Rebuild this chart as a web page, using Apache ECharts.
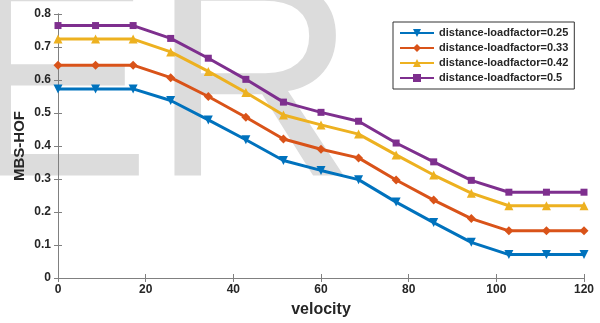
<!DOCTYPE html>
<html>
<head>
<meta charset="utf-8">
<script src="https://cdn.jsdelivr.net/npm/echarts@6/dist/echarts.min.js"></script>
<style>
  html, body { margin: 0; padding: 0; background: #fff; }
  #chart { width: 600px; height: 323px; }
</style>
</head>
<body>
<div id="chart"></div>
<script>
// velocity samples (15 points, 0..120)
const velocity = [0, 8.57, 17.14, 25.71, 34.29, 42.86, 51.43, 60, 68.57, 77.14, 85.71, 94.29, 102.86, 111.43, 120]

const seriesNames = [
  'distance-loadfactor=0.25',
  'distance-loadfactor=0.33',
  'distance-loadfactor=0.42',
  'distance-loadfactor=0.5',
]

const hof025 = [0.573, 0.573, 0.573, 0.538, 0.479, 0.419, 0.356, 0.326, 0.298, 0.230, 0.168, 0.108, 0.071, 0.071, 0.071]
const hof033 = [0.645, 0.645, 0.645, 0.607, 0.550, 0.487, 0.421, 0.390, 0.364, 0.297, 0.236, 0.180, 0.143, 0.143, 0.143]
const hof042 = [0.724, 0.724, 0.724, 0.685, 0.626, 0.562, 0.494, 0.464, 0.436, 0.373, 0.312, 0.257, 0.219, 0.219, 0.219]
const hof050 = [0.765, 0.765, 0.765, 0.726, 0.666, 0.602, 0.533, 0.502, 0.475, 0.409, 0.352, 0.296, 0.260, 0.260, 0.260]

const colors = ['#0072BD', '#D95319', '#EDB120', '#7E2F8E']
const markers = [
  { symbol: 'triangle', rotate: 180, size: 9 },
  { symbol: 'diamond', rotate: 0, size: 9 },
  { symbol: 'triangle', rotate: 0, size: 9 },
  { symbol: 'rect', rotate: 0, size: 7 },
]

const font = 'Liberation Sans, Arial, sans-serif'
const axisColor = '#808080'
const labelColor = '#262626'

const chart = echarts.init(document.getElementById('chart'))

function makeSeries(values, i) {
  return {
    name: seriesNames[i],
    type: 'line',
    data: values.map((v, k) => [velocity[k], v]),
    symbol: markers[i].symbol,
    symbolRotate: markers[i].rotate,
    symbolSize: markers[i].size,
    showAllSymbol: true,
    lineStyle: { color: colors[i], width: 3 },
    itemStyle: { color: colors[i] },
    z: 3,
  }
}

// top/right axes only close the box
const boxAxis = {
  axisLine: { show: true, lineStyle: { color: axisColor, width: 1 } },
  axisTick: { show: true, inside: true, length: 4, lineStyle: { color: axisColor } },
  axisLabel: { show: false },
  splitLine: { show: false },
}

chart.setOption({
  animation: false,
  backgroundColor: '#fff',
  graphic: [{
    type: 'text',
    z: -10,
    silent: true,
    x: -39,
    y: 97,
    style: {
      text: 'ER',
      font: '285px ' + font,
      fill: '#dcdcdc',
      verticalAlign: 'middle',
    },
  }],
  grid: { left: 58, right: 16, top: 14, bottom: 42 },
  legend: {
    left: 393,
    top: 22,
    orient: 'vertical',
    padding: [5, 6, 5, 6],
    itemWidth: 34,
    itemHeight: 10,
    itemGap: 3,
    backgroundColor: '#fff',
    borderColor: '#333',
    borderWidth: 1,
    borderRadius: 0,
    data: seriesNames,
    textStyle: { fontFamily: font, fontSize: 11, fontWeight: 'bold', color: labelColor, lineHeight: 12 },
  },
  xAxis: [{
    type: 'value',
    min: 0,
    max: 120,
    interval: 20,
    name: 'velocity',
    nameLocation: 'middle',
    nameGap: 24,
    nameMoveOverlap: false,
    nameTextStyle: { fontFamily: font, fontSize: 16, fontWeight: 'bold', color: labelColor },
    axisLine: { show: true, lineStyle: { color: axisColor, width: 1 } },
    axisTick: { show: true, inside: true, length: 4, lineStyle: { color: axisColor } },
    axisLabel: { fontFamily: font, fontSize: 12, fontWeight: 'bold', color: labelColor, margin: 6 },
    splitLine: { show: false },
  }, {
    type: 'value',
    position: 'top',
    min: 0,
    max: 120,
    interval: 20,
    ...boxAxis,
  }],
  yAxis: [{
    type: 'value',
    min: 0,
    max: 0.8,
    interval: 0.1,
    name: 'MBS-HOF',
    nameLocation: 'middle',
    nameGap: 31,
    nameMoveOverlap: false,
    nameTextStyle: { fontFamily: font, fontSize: 15, fontWeight: 'bold', color: labelColor },
    axisLine: { show: true, lineStyle: { color: axisColor, width: 1 } },
    axisTick: { show: true, inside: true, length: 4, lineStyle: { color: axisColor } },
    axisLabel: { fontFamily: font, fontSize: 12, fontWeight: 'bold', color: labelColor, margin: 7 },
    splitLine: { show: false },
  }, {
    type: 'value',
    position: 'right',
    min: 0,
    max: 0.8,
    interval: 0.1,
    ...boxAxis,
  }],
  series: [hof025, hof033, hof042, hof050].map(makeSeries),
})
</script>
</body>
</html>
